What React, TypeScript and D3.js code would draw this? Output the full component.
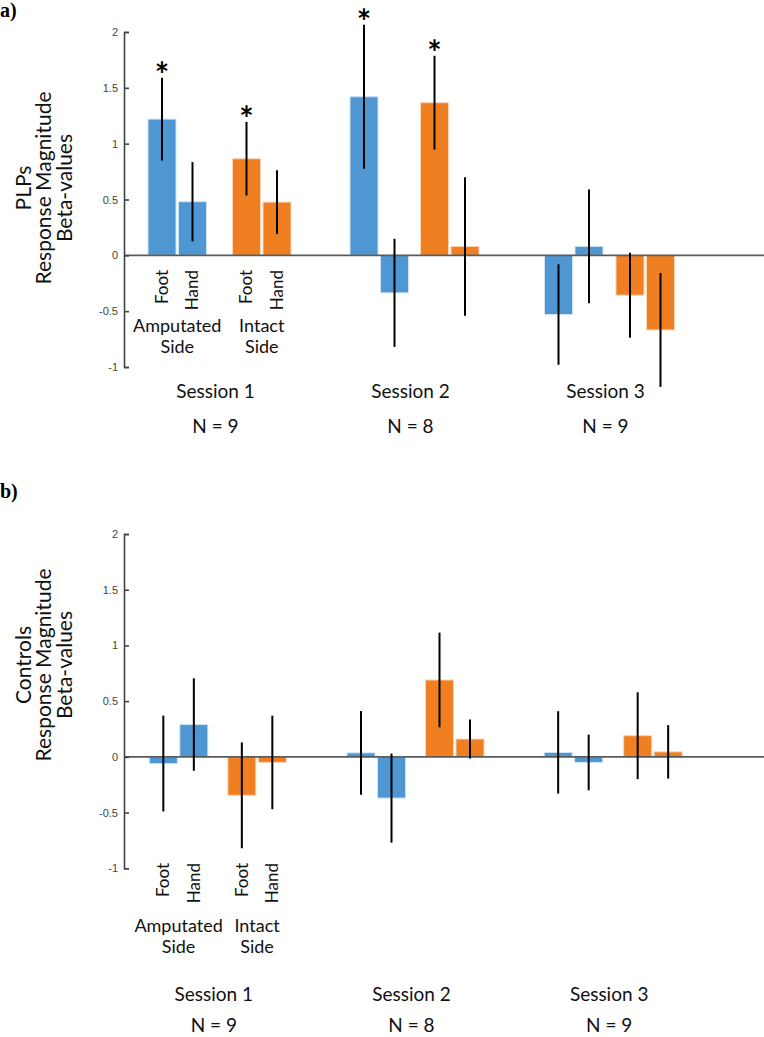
import React, { useEffect, useRef } from "react";
import * as d3 from "d3";

const sessions = ["Session 1", "Session 2", "Session 3"];
const sampleSizes = ["N = 9", "N = 8", "N = 9"];
const sides = ["Amputated", "Intact"];
const limbs = ["Foot", "Hand"];
const yTicks = [-1, -0.5, 0, 0.5, 1, 1.5, 2];

// order within a session: amputated foot, amputated hand, intact foot, intact hand
const plpMeans = [1.22, 0.48, 0.865, 0.477, 1.42, -0.336, 1.367, 0.08, -0.53, 0.08, -0.357, -0.668];
const plpErrors = [0.37, 0.355, 0.33, 0.285, 0.645, 0.484, 0.42, 0.62, 0.45, 0.51, 0.38, 0.51];
const plpStars = [true, false, true, false, true, false, true, false, false, false, false, false];

const controlMeans = [-0.06, 0.29, -0.345, -0.05, 0.036, -0.37, 0.69, 0.16, 0.04, -0.05, 0.19, 0.045];
const controlErrors = [0.43, 0.415, 0.475, 0.42, 0.375, 0.4, 0.425, 0.175, 0.37, 0.25, 0.39, 0.24];
const controlStars = controlMeans.map(() => false);

const FONT = "Lato, 'Open Sans', sans-serif";
const colors = ["#4f97d3", "#f07f21"];
const edges = ["#cfe3f4", "#fbd6b8"];

function drawPanel(svg: any, cfg: any) {
  const g = svg.append("g");
  const y = d3.scaleLinear().domain([-1, 2]).range([cfg.yBottom, cfg.yTop]);
  const sx = d3.scaleBand().domain(sessions).range(cfg.xRange);
  const barStep = 30.5;
  const barW = 28;
  const axisX = 124;

  const rows = sessions.flatMap((s, si) =>
    sides.flatMap((side, di) =>
      limbs.map((limb, li) => {
        const i = si * 4 + di * 2 + li;
        return { s, si, side, di, limb, li, mean: cfg.means[i], err: cfg.errors[i], star: cfg.stars[i] };
      })
    )
  );

  const barLeft = (d: any) => {
    const gap = cfg.pairGaps[d.si];
    const span = barStep * 2 + gap + barW;
    const start = (sx(d.s) as number) + sx.bandwidth() / 2 - span / 2;
    return start + d.li * barStep + d.di * (barStep + gap);
  };
  const barMid = (d: any) => barLeft(d) + barW / 2;
  const sideMid = (si: number, di: number) => {
    const a = rows[si * 4 + di * 2];
    const b = rows[si * 4 + di * 2 + 1];
    return (barLeft(a) + barLeft(b) + barW) / 2;
  };

  g.selectAll("rect.bar")
    .data(rows)
    .enter()
    .append("rect")
    .attr("class", "bar")
    .attr("x", barLeft)
    .attr("width", barW)
    .attr("y", (d: any) => y(Math.max(0, d.mean)))
    .attr("height", (d: any) => Math.abs(y(d.mean) - y(0)))
    .attr("fill", (d: any) => colors[d.di])
    .attr("stroke", (d: any) => edges[d.di])
    .attr("stroke-width", 1);

  // zero line
  g.append("line")
    .attr("x1", axisX)
    .attr("x2", 764)
    .attr("y1", y(0))
    .attr("y2", y(0))
    .attr("stroke", "#5a5a5a")
    .attr("stroke-width", 1.6);

  g.selectAll("line.err")
    .data(rows)
    .enter()
    .append("line")
    .attr("class", "err")
    .attr("x1", barMid)
    .attr("x2", barMid)
    .attr("y1", (d: any) => y(d.mean + d.err))
    .attr("y2", (d: any) => y(d.mean - d.err))
    .attr("stroke", "#000")
    .attr("stroke-width", 2);

  g.selectAll("text.star")
    .data(rows.filter((d: any) => d.star))
    .enter()
    .append("text")
    .attr("class", "star")
    .attr("x", barMid)
    .attr("y", (d: any) => y(d.mean + d.err) + 9)
    .attr("text-anchor", "middle")
    .attr("font-family", FONT)
    .attr("font-weight", "bold")
    .attr("font-size", 34)
    .text("*");

  // y axis
  const axis = d3
    .axisLeft(y)
    .tickValues(yTicks)
    .tickSize(-5)
    .tickSizeOuter(-5)
    .tickPadding(6)
    .tickFormat((d: any) => String(d));
  const ax = g.append("g").attr("transform", `translate(${axisX},0)`).call(axis);
  ax.select(".domain").attr("stroke", "#444").attr("stroke-width", 1.6);
  ax.selectAll(".tick line").attr("stroke", "#444").attr("stroke-width", 1.6);
  ax.selectAll(".tick text")
    .attr("fill", "#444")
    .attr("font-family", "'Liberation Sans', Arial, sans-serif")
    .attr("font-size", 11);

  // y label
  const yl = g
    .append("text")
    .attr("transform", `translate(0,${cfg.labelMid}) rotate(-90)`)
    .attr("text-anchor", "middle")
    .attr("font-family", FONT)
    .attr("font-size", 21)
    .attr("fill", "#111");
  cfg.yLabel.forEach((t: string, i: number) => {
    yl.append("tspan").attr("x", 0).attr("y", [31, 51, 72][i]).text(t);
  });

  // limb labels
  g.selectAll("text.limb")
    .data(rows.filter((d: any) => d.si === 0))
    .enter()
    .append("text")
    .attr("class", "limb")
    .attr("transform", (d: any) => `translate(${barMid(d)},${cfg.limbTop}) rotate(-90)`)
    .attr("text-anchor", "end")
    .attr("dy", "0.35em")
    .attr("font-family", FONT)
    .attr("font-size", 17)
    .attr("fill", "#111")
    .text((d: any) => d.limb);

  // side labels
  sides.forEach((side, di) => {
    const t = g
      .append("text")
      .attr("text-anchor", "middle")
      .attr("font-family", FONT)
      .attr("font-size", 18)
      .attr("fill", "#111");
    t.append("tspan").attr("x", sideMid(0, di)).attr("y", cfg.sideY).text(side);
    t.append("tspan").attr("x", sideMid(0, di)).attr("y", cfg.sideY + 21).text("Side");
  });

  // session labels
  sessions.forEach((s, si) => {
    const cx = (sx(s) as number) + sx.bandwidth() / 2 - 4;
    g.append("text")
      .attr("x", cx)
      .attr("y", cfg.sessionY)
      .attr("text-anchor", "middle")
      .attr("font-family", FONT)
      .attr("font-size", 19)
      .attr("fill", "#111")
      .text(s);
    g.append("text")
      .attr("x", cx)
      .attr("y", cfg.sessionY + cfg.nGap)
      .attr("text-anchor", "middle")
      .attr("font-family", FONT)
      .attr("font-size", 19)
      .attr("fill", "#111")
      .text(sampleSizes[si]);
  });

  g.append("text")
    .attr("x", 0)
    .attr("y", cfg.tagY)
    .attr("font-family", "'Liberation Serif', serif")
    .attr("font-weight", "bold")
    .attr("font-size", 20)
    .text(cfg.tag);
}

export default function App() {
  const ref = useRef<SVGSVGElement>(null);

  useEffect(() => {
    const svg = d3.select(ref.current);
    svg.selectAll("*").remove();

    drawPanel(svg, {
      tag: "a)",
      tagY: 17,
      yTop: 32,
      yBottom: 367,
      xRange: [122, 707],
      pairGaps: [54, 40, 41],
      means: plpMeans,
      errors: plpErrors,
      stars: plpStars,
      yLabel: ["PLPs", "Response Magnitude", "Beta-values"],
      labelMid: 188,
      limbTop: 270,
      sideY: 332,
      sessionY: 398,
      nGap: 35,
    });

    drawPanel(svg, {
      tag: "b)",
      tagY: 498,
      yTop: 534,
      yBottom: 868.3,
      xRange: [119, 712],
      pairGaps: [48, 48, 49],
      means: controlMeans,
      errors: controlErrors,
      stars: controlStars,
      yLabel: ["Controls", "Response Magnitude", "Beta-values"],
      labelMid: 665,
      limbTop: 863,
      sideY: 932,
      sessionY: 1001,
      nGap: 31,
    });
  }, []);

  return (
    <svg
      ref={ref}
      width={764}
      height={1037}
      style={{ position: "absolute", left: 0, top: 0, background: "#fff" }}
    />
  );
}
